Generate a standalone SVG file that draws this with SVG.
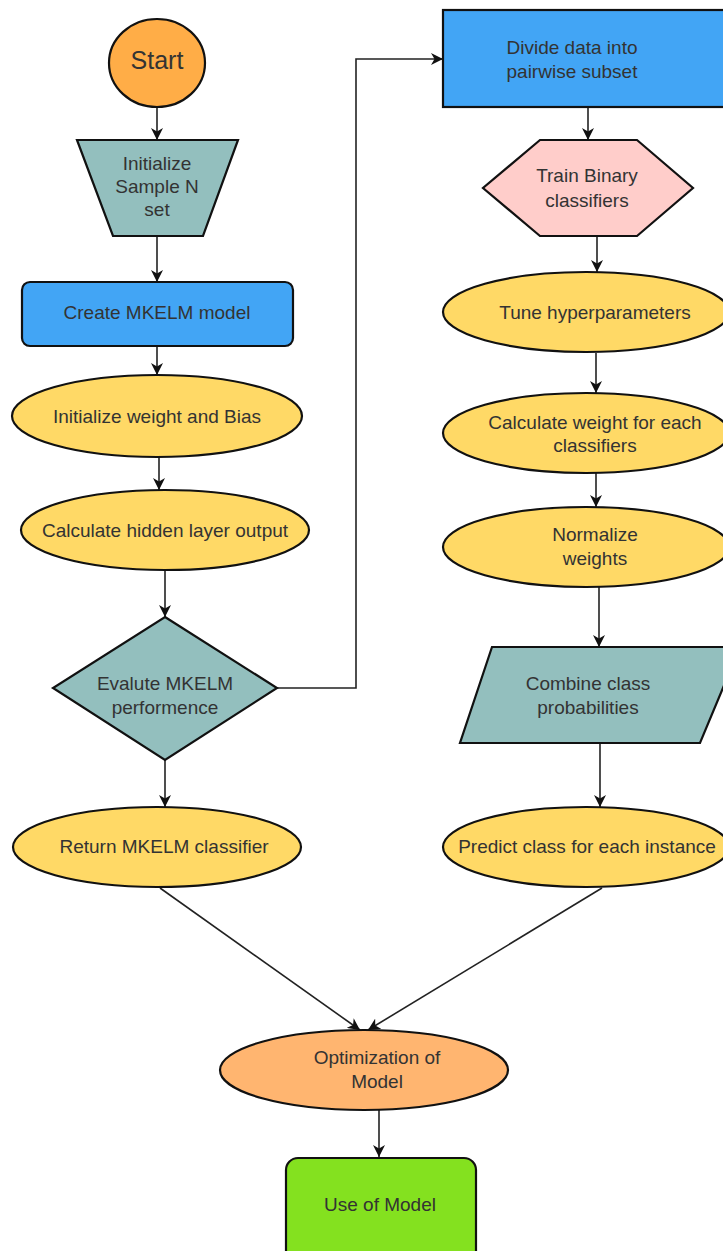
<svg xmlns="http://www.w3.org/2000/svg" width="723" height="1251" viewBox="0 0 723 1251">
<defs>
<marker id="arr" markerUnits="userSpaceOnUse" markerWidth="13" markerHeight="12" refX="12" refY="6" orient="auto">
<path d="M0,0 L12,6 L0,12 L3.5,6 z" fill="#111"/>
</marker>
<style>
.s{stroke:#111;stroke-width:2.2}
.t{font-family:"Liberation Sans",Arial,sans-serif;font-size:19px;fill:#333;text-anchor:middle}
.c{fill:none;stroke:#222;stroke-width:1.6;marker-end:url(#arr)}
.y{fill:#FFD966}
</style>
</defs>
<rect width="723" height="1251" fill="#fff"/>
<g id="connectors">
<path class="c" d="M157,107 L157,140"/>
<path class="c" d="M157,236 L157,282"/>
<path class="c" d="M157,346 L157,375"/>
<path class="c" d="M159,457 L159,490"/>
<path class="c" d="M165,570 L165,617"/>
<path class="c" d="M165,760 L165,807"/>
<path class="c" d="M277,688 L356,688 L356,59 L443,59"/>
<path class="c" d="M588,107 L588,140"/>
<path class="c" d="M597,236 L597,272"/>
<path class="c" d="M596,353 L596,393"/>
<path class="c" d="M596,473 L596,507"/>
<path class="c" d="M599,587 L599,647"/>
<path class="c" d="M600,743 L600,807"/>
<path class="c" d="M160,888 L360,1030"/>
<path class="c" d="M602,888 L368,1030"/>
<path class="c" d="M379,1110 L379,1157"/>
</g>
<g id="start">
<ellipse class="s" cx="157" cy="63" rx="48" ry="44" fill="#FFAD47"/>
<text class="t" x="157" y="69" style="font-size:25px">Start</text>
</g>
<g id="init-sample">
<path class="s" d="M77,140 L238,140 L203,236 L113,236 Z" fill="#93BFBE"/>
<text class="t" x="157" y="170">Initialize</text>
<text class="t" x="157" y="193">Sample N</text>
<text class="t" x="157" y="216">set</text>
</g>
<g id="create-model">
<rect class="s" x="22" y="282" width="271" height="64" rx="8" fill="#42A5F5"/>
<text class="t" x="157" y="319">Create MKELM model</text>
</g>
<g id="init-weight">
<ellipse class="s y" cx="157" cy="416" rx="145" ry="41"/>
<text class="t" x="157" y="423">Initialize weight and Bias</text>
</g>
<g id="calc-hidden">
<ellipse class="s y" cx="165" cy="530" rx="144" ry="40"/>
<text class="t" x="165" y="537">Calculate hidden layer output</text>
</g>
<g id="evaluate">
<path class="s" d="M165,617 L277,688 L165,760 L53,688 Z" fill="#93BFBE"/>
<text class="t" x="165" y="690">Evalute MKELM</text>
<text class="t" x="165" y="714">performence</text>
</g>
<g id="return-classifier">
<ellipse class="s y" cx="157" cy="847" rx="144" ry="40"/>
<text class="t" x="164" y="853">Return MKELM classifier</text>
</g>
<g id="divide-data">
<rect class="s" x="443" y="10" width="300" height="97" fill="#42A5F5"/>
<text class="t" x="572" y="54">Divide data into</text>
<text class="t" x="572" y="78">pairwise subset</text>
</g>
<g id="train-binary">
<path class="s" d="M540,140 L637,140 L693,188 L637,236 L540,236 L483,188 Z" fill="#FFCDCA"/>
<text class="t" x="587" y="182">Train Binary</text>
<text class="t" x="587" y="207">classifiers</text>
</g>
<g id="tune">
<ellipse class="s y" cx="586" cy="312" rx="143" ry="40"/>
<text class="t" x="595" y="319">Tune hyperparameters</text>
</g>
<g id="calc-weight">
<ellipse class="s y" cx="586" cy="433" rx="143" ry="40"/>
<text class="t" x="595" y="429">Calculate weight for each</text>
<text class="t" x="595" y="452">classifiers</text>
</g>
<g id="normalize">
<ellipse class="s y" cx="586" cy="547" rx="143" ry="40"/>
<text class="t" x="595" y="541">Normalize</text>
<text class="t" x="595" y="565">weights</text>
</g>
<g id="combine">
<path class="s" d="M492,647 L740,647 L700,743 L460,743 Z" fill="#93BFBE"/>
<text class="t" x="588" y="690">Combine class</text>
<text class="t" x="588" y="714">probabilities</text>
</g>
<g id="predict">
<ellipse class="s y" cx="586" cy="847" rx="143" ry="40"/>
<text class="t" x="587" y="853">Predict class for each instance</text>
</g>
<g id="optimization">
<ellipse class="s" cx="364" cy="1070" rx="144" ry="40" fill="#FFB570"/>
<text class="t" x="377" y="1064">Optimization of</text>
<text class="t" x="377" y="1088">Model</text>
</g>
<g id="use-model">
<rect class="s" x="286" y="1158" width="190" height="110" rx="12" fill="#84E11F"/>
<text class="t" x="380" y="1211">Use of Model</text>
</g>
</svg>
